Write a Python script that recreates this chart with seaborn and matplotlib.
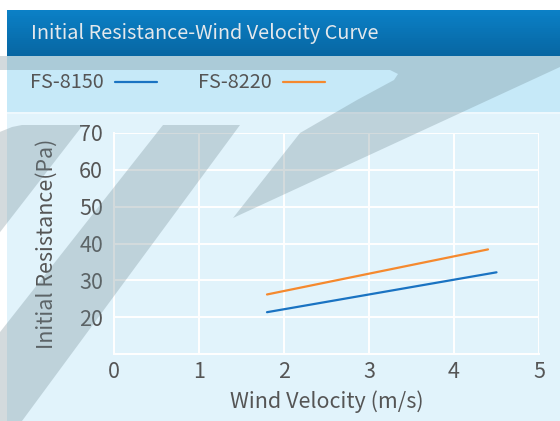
import numpy as np
import pandas as pd
import matplotlib
matplotlib.use("Agg")
import matplotlib.pyplot as plt
import matplotlib.patches as mpatches
from matplotlib.lines import Line2D
import seaborn as sns

# data
series = ["FS-8150", "FS-8220"]
velocity_8150 = [1.8, 4.5]
resistance_8150 = [21.4, 32.2]
velocity_8220 = [1.8, 4.4]
resistance_8220 = [26.2, 38.4]
colors = ["#1a73c2", "#f5892e"]
x_ticks = [0, 1, 2, 3, 4, 5]
y_ticks = [20, 30, 40, 50, 60, 70]

df = pd.DataFrame({
    "velocity": velocity_8150 + velocity_8220,
    "resistance": resistance_8150 + resistance_8220,
    "model": [series[0]] * len(velocity_8150) + [series[1]] * len(velocity_8220),
})

sns.set_theme(style="white")
plt.rcParams["font.family"] = ["Noto Sans CJK SC", "DejaVu Sans"]

W, H = 560, 421
fig = plt.figure(figsize=(W / 100, H / 100), dpi=100)
fig.patch.set_facecolor("white")


def px(x, y):
    return (x / W, 1 - y / H)


def rect(x0, y0, x1, y1, color, z):
    p = mpatches.Polygon([px(x0, y0), px(x1, y0), px(x1, y1), px(x0, y1)],
                         closed=True, transform=fig.transFigure,
                         facecolor=color, edgecolor="none", zorder=z)
    fig.patches.append(p)


# panels
rect(7, 56, W, 112, "#c6e9f8", -3)
rect(7, 112, W, 113.5, "#eef8fd", -3)
rect(7, 113.5, W, H, "#e1f3fb", -3)

# header, vertical gradient
top_col = np.array([11, 128, 198]) / 255
bot_col = np.array([7, 102, 162]) / 255
n = 23
for i in range(n):
    t = i / (n - 1)
    rect(7, 10 + i * 2, W, 12.2 + i * 2, tuple(top_col * (1 - t) + bot_col * t), 3)
fig.text(31 / W, 1 - 34 / H, "Initial Resistance-Wind Velocity Curve",
         color="#e4e8ec", fontsize=14.3, va="center", ha="left", zorder=4)

# watermark shapes
wm = dict(transform=fig.transFigure, facecolor="#6e8790", edgecolor="none",
          alpha=0.3, zorder=2, closed=True)
shapes = [
    [(0, 56), (W, 56), (W, 67), (233, 218), (300, 133), (357, 100),
     (394, 80), (398, 74), (390, 70), (0, 70)],
    [(12, 127), (22, 125), (83, 125), (-20, 258), (-20, 140)],
    [(163, 125), (240, 125), (22, 421), (-70, 421)],
]
for s in shapes:
    fig.patches.append(mpatches.Polygon([px(*p) for p in s], **wm))

ax = fig.add_axes([114 / W, 1 - 354.3 / H, 425 / W, 221.6 / H])
ax.set_facecolor("none")
sns.lineplot(data=df, x="velocity", y="resistance", hue="model",
             palette=colors, linewidth=1.6, legend=False, ax=ax)

ax.set_xlim(0, 5)
ax.set_ylim(10, 70)
ax.set_xticks(x_ticks)
ax.set_yticks(y_ticks)
ax.grid(True, color="white", linewidth=1.4)
for side in ["top", "right"]:
    ax.spines[side].set_visible(False)
for side in ["left", "bottom"]:
    ax.spines[side].set_color("white")
    ax.spines[side].set_linewidth(1.4)
ax.tick_params(length=0, labelsize=15.5, labelcolor="#555555")
ax.tick_params(axis="y", pad=8)
ax.tick_params(axis="x", pad=5)
ax.set_xlabel("Wind Velocity (m/s)", fontsize=15.5, color="#555555", labelpad=5)
ax.set_ylabel("Initial Resistance(Pa)", fontsize=15.5, color="#555555", labelpad=15)

handles = [Line2D([], [], color=c, linewidth=1.6) for c in colors]
fig.legend(handles, series, loc="center left", bbox_to_anchor=(12 / W, 1 - 83 / H),
           ncol=2, frameon=False, markerfirst=False, handlelength=2.15,
           columnspacing=2.05, handletextpad=0.55, fontsize=14.3,
           labelcolor="#555555")

fig.savefig("out.png", dpi=100)
